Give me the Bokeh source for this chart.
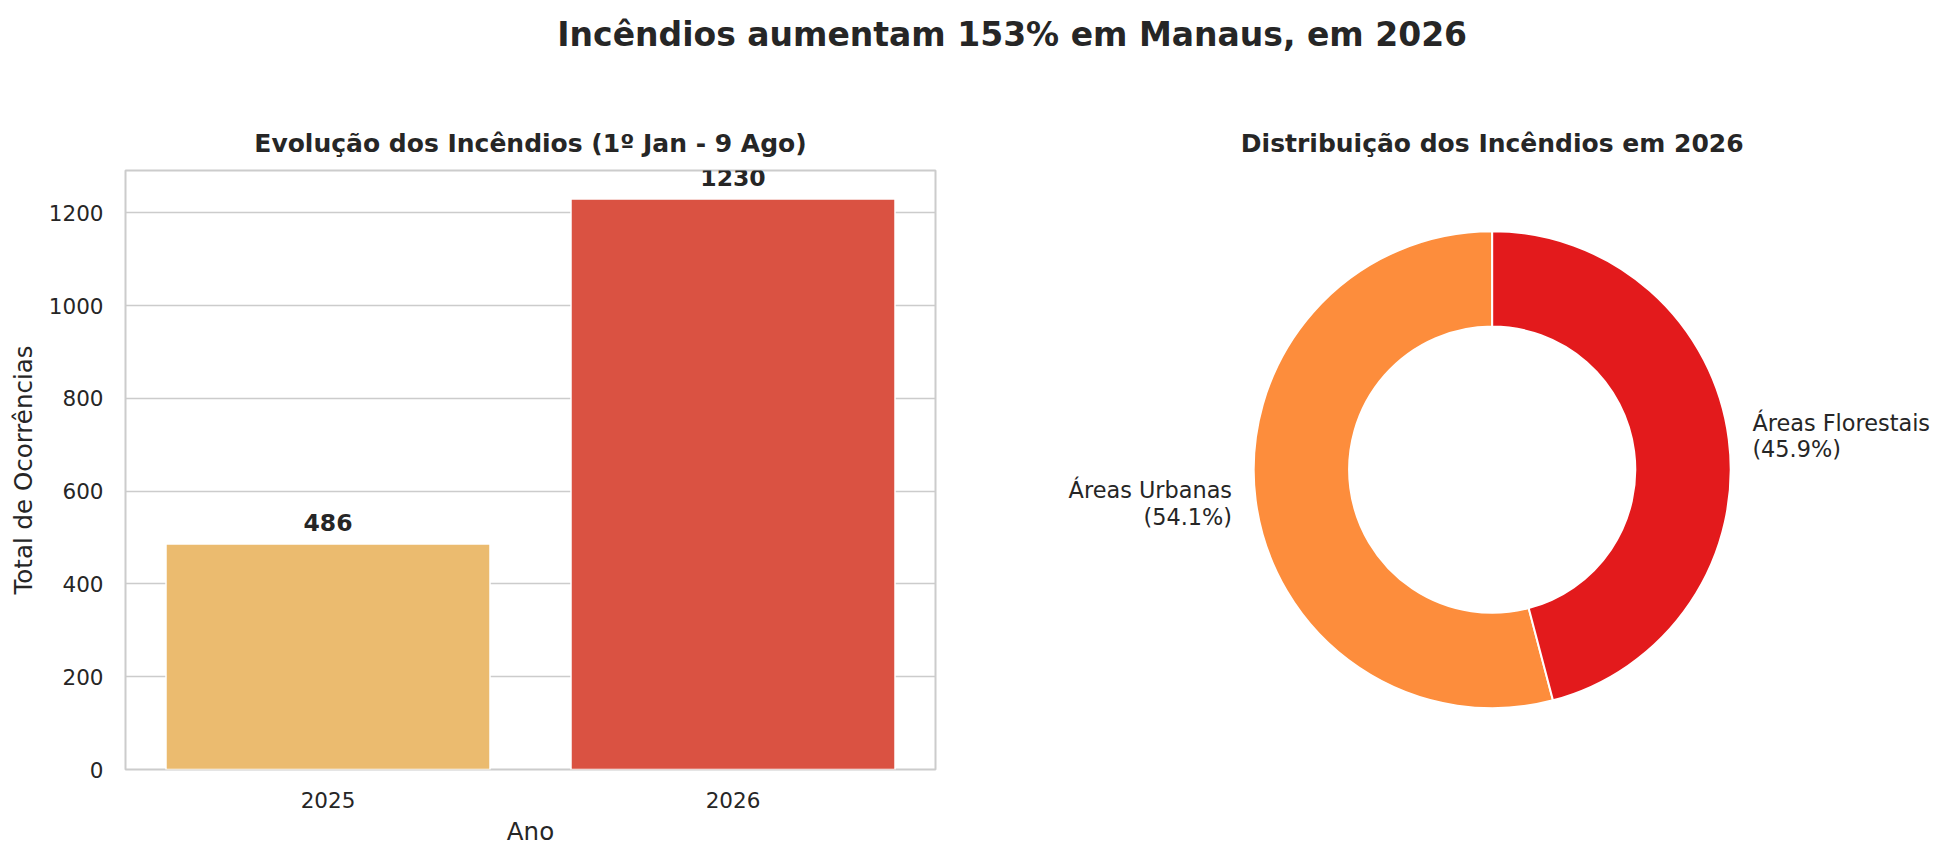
import math
from bokeh.plotting import figure
from bokeh.models import Range1d, FactorRange, Label, LabelSet, ColumnDataSource, FixedTicker
from bokeh.layouts import column, row
from bokeh.embed import file_html
from bokeh.resources import INLINE
from bokeh.core.properties import value

# ---------------- data ----------------
SUPTITLE = "Incêndios aumentam 153% em Manaus, em 2026"
BAR_TITLE = "Evolução dos Incêndios (1º Jan - 9 Ago)"
PIE_TITLE = "Distribuição dos Incêndios em 2026"
years = ["2025", "2026"]
totals = [486, 1230]
bar_colors = ["#EBBB6F", "#DA5242"]
y_ticks = [0, 200, 400, 600, 800, 1000, 1200]
x_label = "Ano"
y_label = "Total de Ocorrências"
areas = ["Áreas Urbanas", "Áreas Florestais"]
shares = [54.1, 45.9]
pie_colors = ["#FD8D3C", "#E31A1C"]

# ---------------- style / layout ----------------
FONT = "DejaVu Sans"
TXT = "#262626"
GRID = "#cccccc"

TOTAL_W = 1949
P1_W = 960
P2_W = TOTAL_W - P1_W
HEAD_H = 162
ROW_H = 693
BT, BB = 8, 86                 # shared top / bottom borders of the row
P1_BL, P1_BR = 125, 25
FRAME_W = P1_W - P1_BL - P1_BR
FRAME_H = ROW_H - BT - BB
P2_BR = 16
P2_FW = P2_W - P2_BR

R_PX = 238.5                    # donut outer radius (px)
CX, CY = 531.7, 299.2           # donut centre inside the donut frame (from left / top)

# ---------------- header (titles) ----------------
pt = figure(width=TOTAL_W, height=HEAD_H, x_range=Range1d(0, TOTAL_W),
            y_range=Range1d(HEAD_H, 0),
            x_axis_location=None, y_axis_location=None, toolbar_location=None,
            output_backend="svg", title=None,
            min_border_left=0, min_border_right=0, min_border_top=0, min_border_bottom=0)
pt.outline_line_color = None
pt.grid.visible = False
pt.add_layout(Label(x=1011.7, y=33.7, text=SUPTITLE, text_align="center",
                    text_baseline="alphabetic", text_font=FONT, text_font_size="33px",
                    text_font_style="bold", text_color=TXT))
pt.add_layout(Label(x=P1_BL + FRAME_W / 2, y=142.7, text=BAR_TITLE, text_align="center",
                    text_baseline="alphabetic", text_font=FONT, text_font_size="25px",
                    text_font_style="bold", text_color=TXT))
pt.add_layout(Label(x=P1_W + CX, y=142.7, text=PIE_TITLE, text_align="center",
                    text_baseline="alphabetic", text_font=FONT, text_font_size="25px",
                    text_font_style="bold", text_color=TXT))

# ---------------- bar chart ----------------
src = ColumnDataSource(dict(year=years, total=totals, color=bar_colors,
                            label=[str(v) for v in totals]))
p1 = figure(width=P1_W, height=ROW_H, x_range=FactorRange(factors=years),
            y_range=Range1d(0, max(totals) * 1.05), toolbar_location=None,
            output_backend="svg", title=None,
            min_border_left=P1_BL, min_border_right=P1_BR,
            min_border_top=BT, min_border_bottom=BB)
p1.vbar(x="year", top="total", width=0.8, fill_color="color", line_color="white",
        line_width=1.5, source=src)
p1.outline_line_color = GRID
p1.outline_line_width = 2
p1.xgrid.grid_line_color = None
p1.ygrid.grid_line_color = GRID
p1.ygrid.grid_line_width = 1.6
p1.yaxis.ticker = FixedTicker(ticks=y_ticks)
for ax in (p1.xaxis[0], p1.yaxis[0]):
    ax.axis_line_color = None
    ax.major_tick_line_color = None
    ax.minor_tick_line_color = None
    ax.major_tick_in = 0
    ax.major_tick_out = 0
    ax.minor_tick_in = 0
    ax.minor_tick_out = 0
    ax.major_label_text_font = FONT
    ax.major_label_text_font_size = "21.5px"
    ax.major_label_text_color = TXT
    ax.axis_label_text_font = FONT
    ax.axis_label_text_font_size = "24.5px"
    ax.axis_label_text_font_style = "normal"
    ax.axis_label_text_color = TXT
p1.xaxis.axis_label = x_label
p1.yaxis.axis_label = y_label
p1.xaxis.major_label_standoff = 22
p1.xaxis.axis_label_standoff = 6
p1.yaxis.major_label_standoff = 22
p1.yaxis.axis_label_standoff = 8
p1.add_layout(LabelSet(x="year", y="total", text="label", source=src, y_offset=13,
                       text_align="center", text_baseline="alphabetic",
                       text_font=value(FONT), text_font_size="23.5px",
                       text_font_style="bold", text_color=TXT))

# ---------------- donut ----------------
p2 = figure(width=P2_W, height=ROW_H,
            x_range=Range1d(-CX / R_PX, (P2_FW - CX) / R_PX),
            y_range=Range1d(-(FRAME_H - CY) / R_PX, CY / R_PX),
            x_axis_location=None, y_axis_location=None, toolbar_location=None,
            output_backend="svg", title=None,
            min_border_left=0, min_border_right=P2_BR, min_border_top=BT, min_border_bottom=BB)
p2.outline_line_color = None
p2.grid.visible = False

total = sum(shares)
a0, a1, mids = [], [], []
cum = 0.0
for s in shares:
    start = math.radians(90 + 360 * cum / total)
    end = math.radians(90 + 360 * (cum + s) / total)
    a0.append(start)
    a1.append(end)
    mids.append((start + end) / 2)
    cum += s
lx = [1.1 * math.cos(m) for m in mids]
ly = [1.1 * math.sin(m) for m in mids]
align = ["left" if v > 0 else "right" for v in lx]
texts = [f"{a}\n({s / total * 100:.1f}%)" for a, s in zip(areas, shares)]
dsrc = ColumnDataSource(dict(a0=a0, a1=a1, color=pie_colors, lx=lx, ly=ly,
                             align=align, text=texts))
p2.annular_wedge(x=0, y=0, inner_radius=0.6, outer_radius=1.0, start_angle="a0",
                 end_angle="a1", direction="anticlock", fill_color="color",
                 line_color="white", line_width=2, source=dsrc)
p2.text(x="lx", y="ly", text="text", text_align="align", text_baseline="middle",
        text_font_size="22.4px", text_line_height=1.03, text_color=TXT,
        text_font=value(FONT), source=dsrc)

layout = column(pt, row(p1, p2))
open("out.html", "w").write(file_html(layout, INLINE))
